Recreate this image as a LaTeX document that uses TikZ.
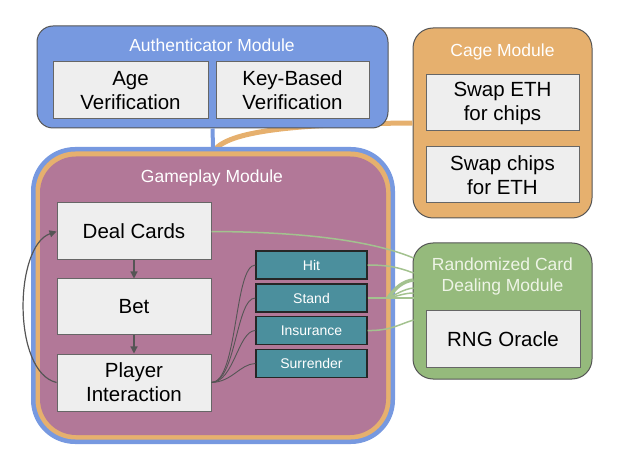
\documentclass[tikz,border=0pt]{standalone}
\usepackage{fontspec}
\setmainfont{Liberation Sans}
\usetikzlibrary{arrows.meta,calc}
\definecolor{authblue}{HTML}{7799E0}
\definecolor{cageor}{HTML}{E6B06E}
\definecolor{gpurple}{HTML}{B27898}
\definecolor{rgreen}{HTML}{95BA7C}
\definecolor{tealc}{HTML}{4B8F9D}
\definecolor{boxfill}{HTML}{EEEEEE}
\definecolor{boxline}{HTML}{666666}
\definecolor{modline}{HTML}{555555}
\definecolor{arrowc}{HTML}{555555}
\definecolor{greenl}{HTML}{A3C28F}
\definecolor{rtitle}{HTML}{EEF4E6}
\begin{document}
\begin{tikzpicture}[x=1pt,y=-1pt,
 box/.style={draw=boxline, fill=boxfill, line width=1pt, inner sep=0pt, font=\fontsize{20.5}{24}\selectfont, align=center, text=black},
 module/.style={draw=modline, line width=1pt, rounded corners=18pt, inner sep=0pt},
 mtitle/.style={text=white, font=\fontsize{17.5}{21}\selectfont, align=center, inner sep=0pt},
 tealbox/.style={draw=black!85, fill=tealc, line width=1.3pt, minimum width=111pt, minimum height=28pt, inner sep=0pt, text=white, font=\fontsize{14}{16}\selectfont},
 flow/.style={draw=arrowc, line width=1.2pt, -{Triangle[length=7pt,width=7pt]}},
 link/.style={draw=arrowc, line width=0.9pt},
 rlink/.style={draw=greenl, line width=1.5pt}
]
\useasboundingbox (0,0) rectangle (619,465);

% Cage module (drawn first so the connector tucks under)
\node[module, fill=cageor, minimum width=179pt, minimum height=190pt, rounded corners=20pt] (cage) at (502.5,123) {};
% orange connector
\draw[cageor, line width=5pt] (cage.west) .. controls (280,124) and (225,133) .. (213,152);

% Authenticator module
\node[module, fill=authblue, minimum width=351pt, minimum height=102pt, rounded corners=16pt] (auth) at (212.5,77) {};
\node[mtitle] (authT) at (212,45) {Authenticator Module};
\node[box, minimum width=155pt, minimum height=57pt] (age) at (130.5,90.5) {Age\\Verification};
\node[box, minimum width=153pt, minimum height=57pt] (key) at (292.5,90.5) {Key-Based\\Verification};

% Cage contents
\node[mtitle] (cageT) at (502.5,52) {Cage Module};
\node[box, minimum width=153pt, minimum height=56pt] (swap1) at (502.5,103) {Swap ETH\\for chips};
\node[box, minimum width=153pt, minimum height=56pt] (swap2) at (502.5,175) {Swap chips\\for ETH};

% Gameplay module (nested borders)
\node[fill=authblue, rounded corners=44pt, minimum width=364pt, minimum height=297pt, inner sep=0pt] (gpb) at (213,295.5) {};
\draw[authblue, line width=4pt] (auth.south) -- (gpb.north);
\node[fill=cageor, rounded corners=40pt, minimum width=355pt, minimum height=288pt, inner sep=0pt] (gpo) at (213,295.5) {};
\node[fill=gpurple, rounded corners=36pt, minimum width=346pt, minimum height=278.5pt, inner sep=0pt] (gp) at (213,295.75) {};
\node[mtitle] (gpT) at (212,178) {Gameplay Module};

\node[box, minimum width=154pt, minimum height=57pt] (deal) at (134,231.5) {Deal Cards};
\node[box, minimum width=154pt, minimum height=56pt] (bet) at (134,307) {Bet};
\node[box, minimum width=154pt, minimum height=57pt] (player) at (134,382.5) {Player\\Interaction};

\draw[flow] (deal.south) -- (bet.north);
\draw[flow] (bet.south) -- (player.north);
\draw[flow] (player.west) .. controls (12,372) and (14,246) .. (deal.west);

\node[tealbox] (hit) at (311.5,265) {Hit};
\node[tealbox] (stand) at (311.5,298) {Stand};
\node[tealbox] (ins) at (311.5,330.5) {Insurance};
\node[tealbox] (sur) at (311.5,363.5) {Surrender};

\draw[link] (player.east) .. controls (238,382) and (234,265) .. (hit.west);
\draw[link] (player.east) .. controls (236,382) and (236,298) .. (stand.west);
\draw[link] (player.east) .. controls (234,382) and (238,331) .. (ins.west);
\draw[link] (player.east) .. controls (232,382) and (240,364) .. (sur.west);

% Randomized card dealing module
\node[module, fill=rgreen, minimum width=179pt, minimum height=136pt, rounded corners=20pt] (rand) at (502.5,311) {};
\node[mtitle, text=rtitle, font=\fontsize{17.5}{21}\selectfont] (randT) at (502.5,276.5) {Randomized Card\\Dealing Module};
\node[box, minimum width=154pt, minimum height=56pt] (rng) at (503,339) {RNG Oracle};

\coordinate (r1) at (413.5,258);
\coordinate (r2) at (413.5,273);
\coordinate (r3) at (413.5,280);
\coordinate (r4) at (413.5,288);
\coordinate (r5) at (413.5,293);
\coordinate (r6) at (413.5,298);
\coordinate (r7) at (413.5,320);
\coordinate (sj) at (388,298);

\draw[rlink] (deal.east) .. controls (320,232) and (380,244) .. (r1);
\draw[rlink] (hit.east) .. controls (390,265) and (400,268) .. (r2);
\draw[rlink] (stand.east) -- (sj);
\draw[draw=greenl, line width=3.5pt] (sj) .. controls (395,288) and (403,281) .. (r3);
\draw[rlink] (sj) .. controls (397,294) and (404,289) .. (r4);
\draw[rlink] (sj) .. controls (398,296) and (405,293) .. (r5);
\draw[rlink] (sj) -- (r6);
\draw[rlink] (ins.east) .. controls (390,331) and (400,324) .. (r7);
\end{tikzpicture}
\end{document}
